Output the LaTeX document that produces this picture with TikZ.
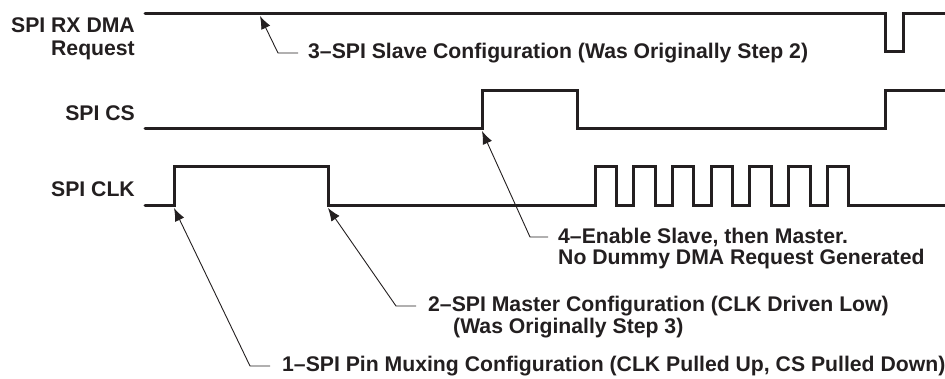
\documentclass[tikz,border=0pt]{standalone}
\usepackage{fontspec}
\setmainfont{Liberation Sans}
\usetikzlibrary{arrows.meta}

\definecolor{ink}{RGB}{35,31,32}

\begin{document}
\begin{tikzpicture}[x=1pt,y=-1pt,font=\fontsize{21.2}{23.5}\selectfont\bfseries,
  signal/.style={ink,line width=3pt,line cap=round},
  leader/.style={ink,line width=0.9pt,-{Latex[length=13pt,width=10pt]}},
  note/.style={ink,anchor=west,inner sep=0pt},
  signame/.style={ink,anchor=east,align=right,inner sep=0pt}]
\useasboundingbox (0,0) rectangle (945,379);
% signal names
\node[signame] (dma) at (135,39) {SPI RX DMA\\Request};
\node[signame] (cs) at (135,113) {SPI CS};
\node[signame] (clk) at (135,189) {SPI CLK};
% waveforms
\draw[signal] (145,14) -- (885,14) -- (885,52) -- (903,52) -- (903,14) -- (945,14);
\draw[signal] (145,129) -- (482,129) -- (482,91) -- (577,91) -- (577,129)
  -- (885,129) -- (885,91) -- (945,91);
\draw[signal] (145,206) -- (174,206) -- (174,167) -- (328,167) -- (328,206) -- (595,206)
  \foreach \i in {0,...,6} {
    -- ({595+38.7*\i},206) -- ({595+38.7*\i},167) -- ({616.5+38.7*\i},167) -- ({616.5+38.7*\i},206)
  } -- (945,206);
% points the steps refer to
\coordinate (dmahi) at (260,16);
\coordinate (csup) at (482,131);
\coordinate (clkup) at (174,208);
\coordinate (clkdn) at (328,208);
% steps
\node[note] (s3) at (308,53) {3–SPI Slave Configuration (Was Originally Step 2)};
\node[note] (s4) at (558,237) {4–Enable Slave, then Master.};
\node[note] (s4b) at (558,259) {No Dummy DMA Request Generated};
\node[note] (s2) at (428,306) {2–SPI Master Configuration (CLK Driven Low)};
\node[note] (s2b) at (453,328) {(Was Originally Step 3)};
\node[note] (s1) at (282,366) {1–SPI Pin Muxing Configuration (CLK Pulled Up, CS Pulled Down)};
\draw[leader] ([xshift=-10pt]s3.west) -- ++(-20,0) -- (dmahi);
\draw[leader] ([xshift=-10pt]s4.west) -- ++(-18,0) -- (csup);
\draw[leader] ([xshift=-12pt]s2.west) -- ++(-20,0) -- (clkdn);
\draw[leader] ([xshift=-12pt]s1.west) -- ++(-20,0) -- (clkup);
\end{tikzpicture}
\end{document}
